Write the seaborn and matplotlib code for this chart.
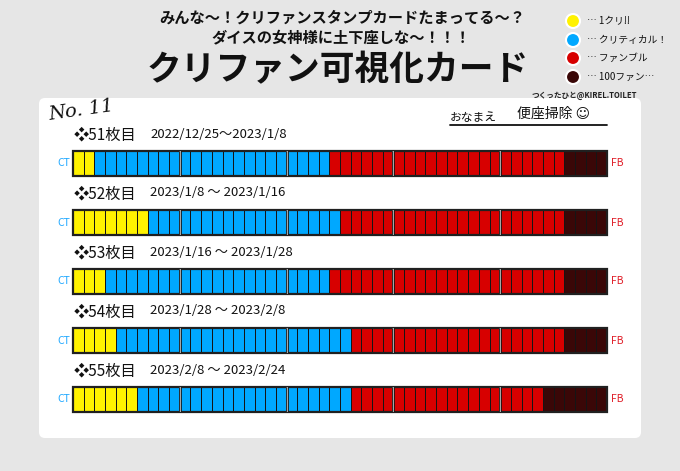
import numpy as np
import matplotlib
matplotlib.use("Agg")
import matplotlib.pyplot as plt
from matplotlib.colors import ListedColormap
from matplotlib.patches import FancyBboxPatch, Circle, Rectangle
import seaborn as sns

sns.set_theme(style="white")
plt.rcParams['font.family'] = ['Noto Sans CJK JP', 'DejaVu Sans']

# ---- data ----
card_numbers = [51, 52, 53, 54, 55]
card_dates = ["2022/12/25〜2023/1/8", "2023/1/8 〜 2023/1/16", "2023/1/16 〜 2023/1/28",
              "2023/1/28 〜 2023/2/8", "2023/2/8 〜 2023/2/24"]
crit1_counts = [2, 7, 3, 4, 6]        # yellow: 1クリ
critical_counts = [22, 18, 21, 22, 20]  # blue: クリティカル
fumble_counts = [22, 21, 22, 20, 18]   # red: ファンブル
fan100_counts = [4, 4, 4, 4, 6]        # dark: 100ファン
legend_labels = ["… 1クリ!!", "… クリティカル！", "… ファンブル", "… 100ファン…"]
colors = ["#FFF200", "#00A8FF", "#D70000", "#3A0707"]

W, H = 680, 471
fig = plt.figure(figsize=(W / 100, H / 100), dpi=100)
fig.patch.set_facecolor("#E6E6E6")
ax = fig.add_axes([0, 0, 1, 1])
ax.set_xlim(0, W)
ax.set_ylim(H, 0)
ax.axis("off")

# card
ax.add_patch(FancyBboxPatch((39, 98), 602, 340, boxstyle="round,pad=0,rounding_size=6",
                            facecolor="white", edgecolor="none"))

# titles
ax.text(342, 18, "みんな〜！クリファンスタンプカードたまってる〜？", ha="center", va="center",
        fontsize=11, fontweight="bold", color="#111")
ax.text(341, 37, "ダイスの女神様に土下座しな〜！！！", ha="center", va="center",
        fontsize=11, fontweight="bold", color="#111")
ax.text(338, 70, "クリファン可視化カード", ha="center", va="center",
        fontsize=25, fontweight="bold", color="#111")

# legend
leg_y = [21, 40, 58, 77]
for c, lab, y in zip(colors, legend_labels, leg_y):
    ax.add_patch(Circle((573, y), 7, facecolor=c, edgecolor="white", lw=1.5))
    ax.text(587, y, lab, ha="left", va="center", fontsize=7, color="#111")
ax.text(637, 95, "つくったひと@KIREL.TOILET", ha="right", va="center",
        fontsize=5.5, fontweight="bold", color="#222")

# No. and name
ax.text(47, 110, "No. 11", ha="left", va="center", fontsize=14, style="italic",
        family=["DejaVu Serif"], color="#111", rotation=8)
ax.text(450, 118, "おなまえ", ha="left", va="center", fontsize=8.5, color="#111")
ax.text(517, 114, "便座掃除 ☺", ha="left", va="center", fontsize=10, color="#111")
ax.plot([450, 607], [125, 125], color="#111", lw=1.3)

bar_left, bar_right = 73, 607
bar_h = 25
tops = [151, 210, 269, 328, 387]
cmap = ListedColormap(colors)

for i in range(len(card_numbers)):
    top = tops[i]
    ax.text(74, top - 16, f"❖{card_numbers[i]}枚目", ha="left", va="center",
            fontsize=11, color="#111")
    ax.text(150, top - 17, card_dates[i], ha="left", va="center", fontsize=9.5,
            style="italic", color="#111")
    ax.text(57, top + bar_h / 2, "CT", ha="left", va="center", fontsize=7.5, color="#1EA8FF")
    ax.text(611, top + bar_h / 2, "FB", ha="left", va="center", fontsize=7.5, color="#E0202A")

    row = np.repeat([0, 1, 2, 3], [crit1_counts[i], critical_counts[i],
                                   fumble_counts[i], fan100_counts[i]])
    hax = fig.add_axes([bar_left / W, 1 - (top + bar_h) / H,
                        (bar_right - bar_left) / W, bar_h / H])
    sns.heatmap(row[np.newaxis, :], ax=hax, cmap=cmap, vmin=-0.5, vmax=3.5, cbar=False,
                linewidths=0.6, linecolor="#151515", xticklabels=False, yticklabels=False)
    n = len(row)
    for b in range(10, n, 10):
        hax.axvline(b, color="#C4C4C4", lw=1.2)
        hax.axvline(b - 0.1, color="#151515", lw=0.6)
        hax.axvline(b + 0.1, color="#151515", lw=0.6)
    hax.add_patch(Rectangle((0, 0), n, 1, fill=False, edgecolor="#202020", lw=1.6,
                            clip_on=False))

fig.savefig("out.png", dpi=100, facecolor=fig.get_facecolor())
